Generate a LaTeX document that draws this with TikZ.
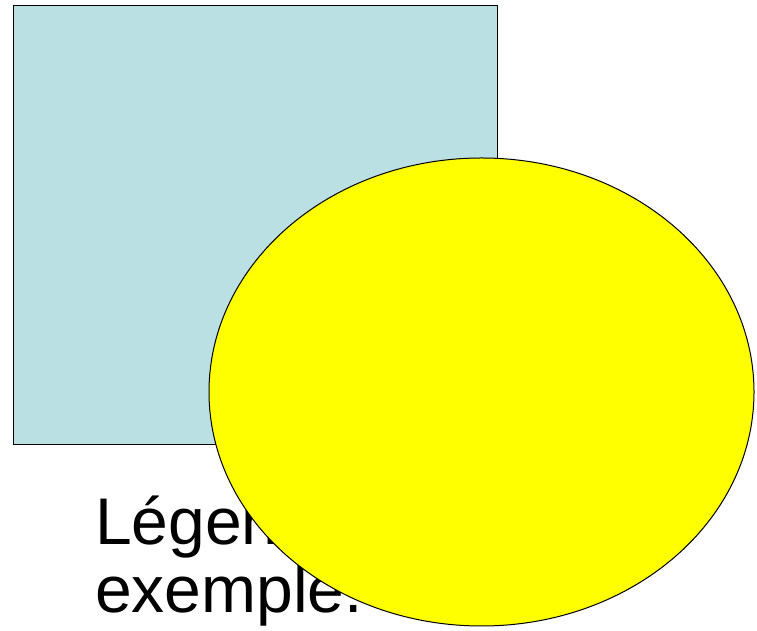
\documentclass[tikz,border=0pt]{standalone}
\usepackage{fontspec}
\setmainfont{Liberation Sans}
\usepackage{tikz}
\usetikzlibrary{shapes}
\definecolor{panelblue}{RGB}{187,224,227}
\definecolor{blobyellow}{RGB}{255,255,0}
\tikzstyle{panel}=[draw, fill=panelblue, line width=1pt]
\tikzstyle{blob}=[ellipse, draw, fill=blobyellow, line width=1pt
,inner sep=0pt
]
\tikzstyle{legend}=[inner sep=0pt, align=left, anchor=base west
,font=\fontsize{66}{68}\selectfont
]

\begin{document}
\begin{tikzpicture}[x=1pt,y=1pt]
    % Fix the page size
    \useasboundingbox (0,0) rectangle (757,631);
    % First the blue square
    \node[panel, minimum width=484pt, minimum height=439pt, inner sep=0pt] (square) at (255,405.5) {};
    % Then the caption, partly hidden
    \node[legend] (caption) at (95,18) {Légende\\exemple.};
    % The yellow ellipse on top
    \node[blob, minimum width=545pt, minimum height=468pt] (disc) at (481.5,239) {};
\end{tikzpicture}
\end{document}
